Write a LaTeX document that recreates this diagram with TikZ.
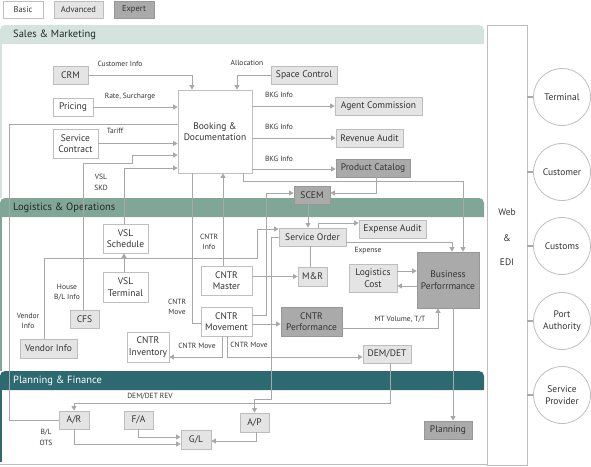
\documentclass[tikz,border=0pt]{standalone}
\usepackage{fontspec}
\setmainfont{PT Sans}
\usetikzlibrary{arrows.meta}
\definecolor{lncol}{HTML}{A8A8A8}
\definecolor{lfill}{HTML}{E4E4E4}
\definecolor{lbd}{HTML}{BDBDBD}
\definecolor{dfill}{HTML}{AAAAAA}
\definecolor{dbd}{HTML}{979797}
\definecolor{wbd}{HTML}{BFBFBF}
\definecolor{txt}{HTML}{333333}
\definecolor{salescol}{HTML}{D4E3DD}
\definecolor{logcol}{HTML}{80A697}
\definecolor{plancol}{HTML}{2D6970}
\begin{document}
\begin{tikzpicture}[x=1pt,y=-1pt,
  base/.style={rectangle, inner sep=1pt, align=center, font=\fontsize{9.5}{11.5}\selectfont, text=txt, line width=0.8pt},
  wbox/.style={base, draw=wbd, fill=white},
  lbox/.style={base, draw=lbd, fill=lfill},
  dbox/.style={base, draw=dbd, fill=dfill},
  conn/.style={draw=lncol, line width=0.8pt},
  arr/.style={conn, -{Triangle[length=4.5pt,width=5pt]}},
  lbl/.style={font=\fontsize{7.5}{10.5}\selectfont, text=txt, align=center, inner sep=0pt},
  bandtxt/.style={font=\fontsize{10.5}{12}\selectfont, anchor=west, inner sep=0pt},
  ext/.style={circle, draw=wbd, line width=0.8pt, minimum size=57, inner sep=0pt, align=center, font=\fontsize{9.5}{11.5}\selectfont, text=txt},
  stub/.style={draw=lncol, line width=2pt}
]
\useasboundingbox (0,0) rectangle (591,466);
\fill[white] (0,0) rectangle (591,466);

% section bands
\fill[salescol] (0,44) [rounded corners=5pt] |- (484,25) [sharp corners] -- (484,44) -- cycle;
\fill[logcol] (0,217) [rounded corners=5pt] |- (484,198) [sharp corners] -- (484,217) -- cycle;
\fill[plancol] (0,390) [rounded corners=5pt] |- (484,371) [sharp corners] -- (484,390) -- cycle;
\draw[salescol, line width=1.6pt] (0.8,44) -- (0.8,198);
\draw[logcol, line width=1.6pt] (0.8,217) -- (0.8,371);
\draw[plancol, line width=1.6pt] (0.8,390) -- (0.8,462);
\draw[lbd, line width=0.8pt] (0,464.6) -- (487,464.6);

\node[bandtxt, text=black!85] (tsales) at (13,35) {Sales \& Marketing};
\node[bandtxt, text=black!85] (tlog) at (13,208) {Logistics \& Operations};
\node[bandtxt, text=white] (tplan) at (13,381) {Planning \& Finance};

% legend
\node[wbox, minimum width=40, minimum height=17, font=\fontsize{8.5}{10}\selectfont] (basic) at (23,9.5) {Basic};
\node[lbox, minimum width=49, minimum height=17, font=\fontsize{8.5}{10}\selectfont] (advanced) at (78.5,9.5) {Advanced};
\node[dbox, minimum width=40, minimum height=17, font=\fontsize{8.5}{10}\selectfont] (expert) at (134,9.5) {Expert};

% Web & EDI
\node[draw=wbd, line width=0.8pt, minimum width=40, minimum height=440, inner sep=0pt] (webbox) at (507,245) {};
\node[text=txt, font=\fontsize{9.5}{11}\selectfont] (web) at (507,212) {Web};
\node[text=txt, font=\fontsize{9.5}{11}\selectfont] (amp) at (507,238) {\&};
\node[text=txt, font=\fontsize{9.5}{11}\selectfont] (edi) at (507,262) {EDI};

\node[ext] (term) at (562,97) {Terminal};
\node[ext] (cust) at (562,172) {Customer};
\node[ext] (customs) at (562,246) {Customs};
\node[ext] (port) at (562,321) {Port\\Authority};
\node[ext] (sprov) at (562,395) {Service\\Provider};
\foreach \c in {term,cust,customs,port,sprov}
  \draw[stub] (webbox.east |- \c.west) -- (\c.west);

% Sales nodes
\node[lbox, minimum width=35, minimum height=18] (crm) at (70.5,75) {CRM};
\node[wbox, minimum width=40, minimum height=18] (pricing) at (73,107) {Pricing};
\node[wbox, minimum width=45, minimum height=29] (contract) at (75.5,143.5) {Service\\Contract};
\node[wbox, minimum width=74, minimum height=83] (booking) at (215,131.5) {Booking \&\\Documentation};
\node[lbox, minimum width=66, minimum height=18] (space) at (304,75) {Space Control};
\node[lbox, minimum width=87, minimum height=18] (agent) at (378.5,106) {Agent Commission};
\node[lbox, minimum width=67, minimum height=18] (revenue) at (369.5,138.5) {Revenue Audit};
\node[dbox, minimum width=74, minimum height=18] (catalog) at (373,168) {Product Catalog};
\node[dbox, minimum width=36, minimum height=18] (scem) at (312,195) {SCEM};

% Logistics nodes
\node[lbox, minimum width=67, minimum height=18] (order) at (312.5,237) {Service Order};
\node[lbox, minimum width=67, minimum height=18] (expaudit) at (392.5,229) {Expense Audit};
\node[dbox, minimum width=62, minimum height=56] (bp) at (448,280) {Business\\Perforrmance};
\node[lbox, minimum width=48, minimum height=28] (lcost) at (373,278) {Logistics\\Cost};
\node[lbox, minimum width=29, minimum height=19] (mr) at (312.5,276.5) {M\&R};
\node[wbox, minimum width=51, minimum height=29] (master) at (226.5,280.5) {CNTR\\Master};
\node[wbox, minimum width=51, minimum height=29] (movement) at (226.5,321.5) {CNTR\\Movement};
\node[dbox, minimum width=61, minimum height=29] (perf) at (311.5,321.5) {CNTR\\Performance};
\node[lbox, minimum width=48, minimum height=18] (demdet) at (387,354) {DEM/DET};
\node[wbox, minimum width=42, minimum height=30] (inventory) at (148,347) {CNTR\\Inventory};
\node[wbox, minimum width=45, minimum height=29] (vslsched) at (125.5,238.5) {VSL\\Schedule};
\node[wbox, minimum width=45, minimum height=30] (vslterm) at (125.5,287) {VSL\\Terminal};
\node[lbox, minimum width=29, minimum height=18] (cfs) at (84.5,319.5) {CFS};
\node[lbox, minimum width=57, minimum height=19] (vendor) at (48.5,348.5) {Vendor Info};

% Planning nodes
\node[lbox, minimum width=30, minimum height=18] (ar) at (74,420) {A/R};
\node[lbox, minimum width=29, minimum height=18] (fa) at (138.5,420) {F/A};
\node[lbox, minimum width=29, minimum height=19] (ap) at (254.5,422.5) {A/P};
\node[lbox, minimum width=30, minimum height=19] (gl) at (196,439.5) {G/L};
\node[dbox, minimum width=48, minimum height=18] (planning) at (448,430) {Planning};

% connectors
\draw[arr] (crm.east) -| (192,0 |- booking.north);
\draw[arr] (space.west) -| (237,0 |- booking.north);
\draw[arr] (pricing.east) -- (pricing.east -| booking.west);
\draw[arr] (contract.east) -- (contract.east -| booking.west);
\draw[conn] (booking.west |- 0,124) -| (9,0 |- ar.west) -- (ar.west);
\draw[arr] (83,0 |- cfs.north) |- (132,163) |- (booking.west |- 0,155);
\draw[arr] (124,0 |- vslsched.north) |- (booking.west |- 0,168);
\draw[arr] (124,0 |- vslterm.north) -- (124,0 |- vslsched.south);
\draw[arr] (44,0 |- vendor.north) |- (257,258) |- (order.west |- 0,229);
\draw[arr] (order.west) -| (271,399) -| (ap.north);
\draw[conn] (192,0 |- booking.south) |- (movement.west |- 0,323);
\draw[arr] (223,0 |- master.north) -- (223,0 |- booking.south);
\draw[arr] (243,0 |- booking.south) |- (463,181) -- (463,0 |- bp.north);
\draw[arr] (order.east |- 0,242) -| (452,0 |- bp.north);
\draw[arr] (master.east |- mr.west) -- (mr.west);
\draw[conn] (310,0 |- order.south) -- (310,0 |- mr.north);
\draw[arr] (308,0 |- scem.south) -- (308,0 |- order.north);
\draw[arr] (318,0 |- order.north) |- (expaudit.west |- 0,223);
\draw[arr] (376,0 |- catalog.south) |- (scem.east |- 0,193);
\draw[arr] (movement.east |- 0,315) -| (266,193) -- (scem.west |- 0,193);
\draw[arr] (movement.east |- 0,324) -- (perf.west |- 0,324);
\draw[arr] (perf.east |- 0,328) -| (438,0 |- bp.south);
\draw[arr] (lcost.east |- 0,271) -- (bp.west |- 0,271);
\draw[arr] (bp.west |- 0,286) -- (lcost.east |- 0,286);
\draw[arr] (453,0 |- bp.south) -- (453,0 |- planning.north);
\draw[arr] (222,0 |- movement.south) |- (inventory.east |- 0,357);
\draw[arr] (227,0 |- movement.south) |- (demdet.west |- 0,357);
\draw[arr] (390,0 |- demdet.south) |- (74,403) -- (74,0 |- ar.north);
\draw[arr] (ar.south) |- (gl.west |- 0,444);
\draw[arr] (fa.south) |- (gl.west |- 0,437);
\draw[arr] (256,0 |- ap.south) |- (gl.east |- 0,441);
\draw[arr] (booking.east |- 0,106) -- (agent.west |- 0,106);
\draw[arr] (booking.east |- 0,138) -- (revenue.west |- 0,138);
\draw[arr] (booking.east |- 0,169) -- (catalog.west |- 0,169);

% labels
\node[lbl] (lcust) at (120,64) {Customer Info};
\node[lbl] (lalloc) at (247,63) {Allocation};
\node[lbl] (lrate) at (130,97) {Rate, Surcharge};
\node[lbl] (ltariff) at (115,131) {Tariff};
\node[lbl] (lvsl) at (101,182.5) {VSL\\SKD};
\node[lbl] (lhouse) at (67,292.5) {House\\B/L Info};
\node[lbl] (lvendor) at (28,321) {Vendor\\Info};
\node[lbl] (lcinfo) at (209,242) {CNTR\\Info};
\node[lbl] (lcmove) at (177,307) {CNTR\\Move};
\node[lbl] (lcmove2) at (197,346) {CNTR Move};
\node[lbl] (lcmove3) at (249,345) {CNTR Move};
\node[lbl] (lexp) at (368,251) {Expense};
\node[lbl] (lmt) at (400,319) {MT Volume, T/T};
\node[lbl] (ldem) at (150,396) {DEM/DET REV};
\node[lbl] (lbl1) at (46,437.5) {B/L\\OTS};
\node[lbl] (lbkg1) at (279,95) {BKG Info};
\node[lbl] (lbkg2) at (279,127) {BKG Info};
\node[lbl] (lbkg3) at (279,159) {BKG Info};
\end{tikzpicture}
\end{document}
